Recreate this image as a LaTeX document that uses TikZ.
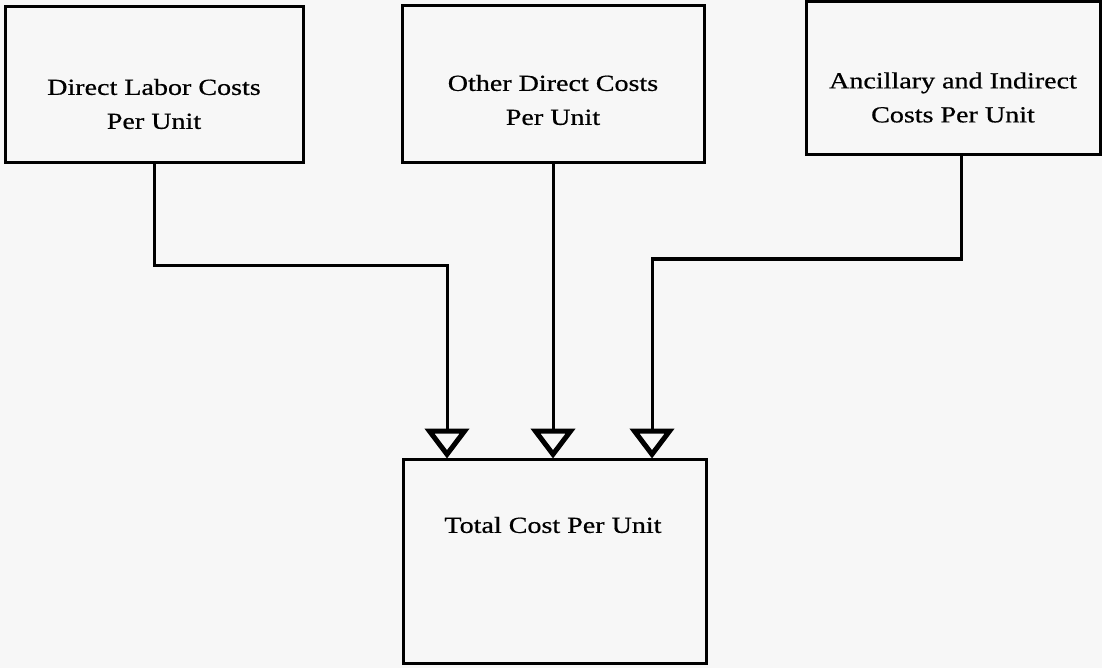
\documentclass[tikz,border=0pt]{standalone}
\usepackage{fontspec}
\setmainfont{Liberation Serif}[FakeStretch=1.22, FakeBold=0.6]
\usetikzlibrary{arrows.meta}
\tikzset{
  box/.style={draw=black, line width=3pt, rectangle, inner sep=0pt},
  txt/.style={align=center, font=\fontsize{23}{34}\selectfont, inner sep=0pt},
  conn/.style={draw=black, line width=3pt, line join=miter,
    -{Triangle[open, width=44pt, length=30pt, line width=5pt]}},
}
\begin{document}
\begin{tikzpicture}[x=1pt, y=-1pt]
\useasboundingbox[fill=black!3] (0,0) rectangle (1102,668);
% boxes
\node[box, minimum width=298pt, minimum height=156pt] (d1) at (154,85) {};
\node[box, minimum width=302pt, minimum height=157pt] (d2) at (553,84.5) {};
\node[box, minimum width=294pt, minimum height=153pt] (d3) at (953,78.5) {};
\node[box, minimum width=303pt, minimum height=204pt] (tot) at (554.5,561) {};
% texts
\node[txt] (d1t) at (154,104) {Direct Labor Costs\\Per Unit};
\node[txt] (d2t) at (553,100) {Other Direct Costs\\Per Unit};
\node[txt] (d3t) at (953,97.5) {Ancillary and Indirect\\Costs Per Unit};
\node[txt] (tott) at (553,525) {Total Cost Per Unit};
% junction coordinates
\coordinate (j1) at (447,265);
\coordinate (j3) at (652,259);
\coordinate (t1) at ([yshift=-1pt]tot.north -| j1);
\coordinate (t2) at ([yshift=-1pt]tot.north -| d2.south);
\coordinate (t3) at ([yshift=-1pt]tot.north -| j3);
% connectors
\draw[conn] (d1.south) |- (j1) -- (t1);
\draw[conn] (d2.south) -- (t2);
\draw[conn] ([xshift=8pt]d3.south) |- (j3) -- (t3);
\end{tikzpicture}
\end{document}
